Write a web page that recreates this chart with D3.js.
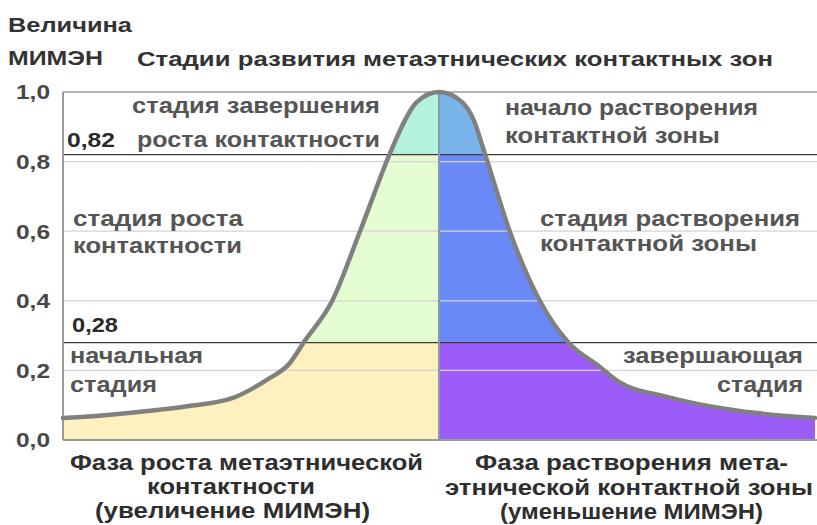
<!DOCTYPE html>
<html>
<head>
<meta charset="utf-8">
<style>
  body { margin: 0; background: #fff; }
  svg text { font-family: "Liberation Sans", Arial, sans-serif; font-weight: bold; }
</style>
</head>
<body>
<div id="chart"></div>
<script src="https://d3js.org/d3.v7.min.js"></script>
<script>
// curve of the MIMEN value across the life of a contact zone
var phase = [0, 5.9, 11.6, 16.5, 22.6, 27.1, 30.2, 32, 35.8, 39.5, 43.6, 45.5, 47.0, 50,
             53.1, 54.6, 56.0, 59.4, 63.4, 67.2, 71.4, 73.7, 80.3, 89.1, 100];
var mimen = [0.063, 0.072, 0.084, 0.097, 0.121, 0.173, 0.222, 0.28, 0.40, 0.60, 0.83, 0.92, 0.97, 1.0,
             0.97, 0.92, 0.83, 0.60, 0.40, 0.28, 0.21, 0.17, 0.124, 0.086, 0.063];
var peak = 50;
var thresholds = [0.28, 0.82];
var thresholdLabels = ["0,28", "0,82"];
var yTicks = [0, 0.2, 0.4, 0.6, 0.8, 1.0];
var yTickLabels = ["0,0", "0,2", "0,4", "0,6", "0,8", "1,0"];
var leftColors = ["#fff0c0", "#e4fcd2", "#b4f2dc"];
var rightColors = ["#9c5cfa", "#6a88f6", "#78b4ea"];

var W = 817, H = 525;
var svg = d3.select("#chart").append("svg").attr("width", W).attr("height", H);

var x = d3.scaleLinear().domain([0, 100]).range([63, 815]);
var y = d3.scaleLinear().domain([0, 1]).range([440, 92]);

var pts = phase.map(function(d, i) { return {t: d, v: mimen[i]}; });

// clip = area under the curve
var area = d3.area().x(function(d) { return x(d.t); }).y0(y(0)).y1(function(d) { return y(d.v); })
  .curve(d3.curveMonotoneX);
svg.append("clipPath").attr("id", "under").append("path").attr("d", area(pts));

// colored stage bands
var bands = [0, thresholds[0], thresholds[1], 1.0];
var fills = svg.append("g").attr("clip-path", "url(#under)");
for (var i = 0; i < 3; i++) {
  fills.append("rect")
    .attr("x", x(0)).attr("width", x(peak) - x(0))
    .attr("y", y(bands[i + 1])).attr("height", y(bands[i]) - y(bands[i + 1]))
    .attr("fill", leftColors[i]);
  fills.append("rect")
    .attr("x", x(peak)).attr("width", x(100) - x(peak))
    .attr("y", y(bands[i + 1])).attr("height", y(bands[i]) - y(bands[i + 1]))
    .attr("fill", rightColors[i]);
}

// gridlines
svg.append("g").selectAll("line").data(yTicks.slice(1, 5)).enter().append("line")
  .attr("x1", x(0)).attr("x2", W).attr("y1", function(d) { return y(d); }).attr("y2", function(d) { return y(d); })
  .attr("stroke", "#d4d4d4").attr("stroke-width", 1.2);

// threshold lines
svg.append("g").selectAll("line").data(thresholds).enter().append("line")
  .attr("x1", x(0)).attr("x2", W).attr("y1", function(d) { return y(d); }).attr("y2", function(d) { return y(d); })
  .attr("stroke", "#3c3c3c").attr("stroke-width", 1.2);

// frame
svg.append("line").attr("x1", x(0)).attr("x2", W).attr("y1", y(1)).attr("y2", y(1)).attr("stroke", "#9a9a9a").attr("stroke-width", 1.5);
svg.append("line").attr("x1", x(0)).attr("x2", W).attr("y1", y(0)).attr("y2", y(0)).attr("stroke", "#9a9a9a").attr("stroke-width", 2);
svg.append("line").attr("x1", x(0)).attr("x2", x(0)).attr("y1", y(1)).attr("y2", y(0)).attr("stroke", "#9a9a9a").attr("stroke-width", 2);

// divider at the peak
svg.append("line").attr("x1", x(peak)).attr("x2", x(peak)).attr("y1", y(1)).attr("y2", y(0))
  .attr("stroke", "#8898a8").attr("stroke-width", 2);

// curve
var line = d3.line().x(function(d) { return x(d.t); }).y(function(d) { return y(d.v); }).curve(d3.curveMonotoneX);
svg.append("path").attr("d", line(pts)).attr("fill", "none").attr("stroke", "#808080").attr("stroke-width", 4.5)
  .attr("stroke-linejoin", "round").attr("stroke-linecap", "round");

// text helper: the source picture is stretched sideways, so fix each width
function txt(tx, ty, size, w, color, s) {
  return svg.append("text").attr("x", tx).attr("y", ty).attr("font-size", size).attr("fill", color)
    .attr("textLength", w).attr("lengthAdjust", "spacingAndGlyphs").text(s);
}

// y tick labels
svg.append("g").selectAll("text").data(yTicks).enter().append("text")
  .attr("x", 50).attr("y", function(d) { return y(d); }).attr("dy", "0.37em")
  .attr("text-anchor", "end").attr("font-size", 20).attr("fill", "#474747")
  .attr("textLength", 34).attr("lengthAdjust", "spacingAndGlyphs")
  .text(function(d, i) { return yTickLabels[i]; });

// threshold labels
txt(72, 332, 20, 46, "#2a2a2a", thresholdLabels[0]);
txt(67, 147, 20, 48, "#2a2a2a", thresholdLabels[1]);

// axis title and chart title
txt(8, 32, 20, 124, "#333", "Величина");
txt(8, 65, 20, 95, "#333", "МИМЭН");
txt(137, 66, 20, 636, "#333", "Стадии развития метаэтнических контактных зон");

// stage labels
var sc = "#555";
txt(132, 113, 22, 248, sc, "стадия завершения");
txt(137, 147, 22, 243, sc, "роста контактности");
txt(505, 115, 22, 253, sc, "начало растворения");
txt(505, 143, 22, 215, sc, "контактной зоны");
txt(73, 226, 22, 170, sc, "стадия роста");
txt(73, 253, 22, 169, sc, "контактности");
txt(540, 226, 22, 260, sc, "стадия растворения");
txt(540, 251, 22, 217, sc, "контактной зоны");
txt(70, 363, 22, 133, sc, "начальная");
txt(70, 392, 22, 87, sc, "стадия");
txt(623, 363, 22, 180, sc, "завершающая");
txt(717, 392, 22, 86, sc, "стадия");

// phase captions
var cc = "#2e2e2e";
txt(70, 470, 22, 353, cc, "Фаза роста метаэтнической");
txt(147, 494, 22, 168, cc, "контактности");
txt(95, 518, 22, 275, cc, "(увеличение МИМЭН)");
txt(475, 470, 22, 313, cc, "Фаза растворения мета-");
txt(445, 495, 22, 368, cc, "этнической контактной зоны");
txt(500, 519, 22, 263, cc, "(уменьшение МИМЭН)");
</script>
</body>
</html>
